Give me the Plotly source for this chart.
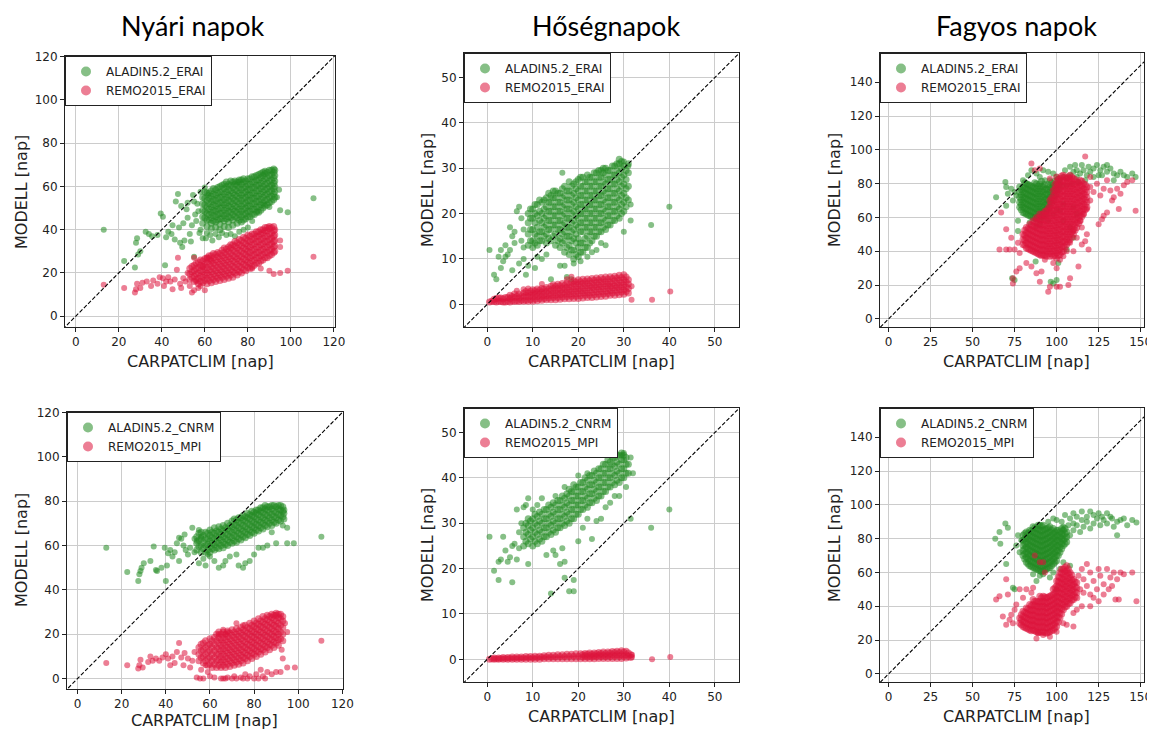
import plotly.graph_objects as go

W, H = 1155, 731

# ---------------- text / categories ----------------
titles = ["Nyári napok", "Hőségnapok", "Fagyos napok"]
names_top = ["ALADIN5.2_ERAI", "REMO2015_ERAI"]
names_bottom = ["ALADIN5.2_CNRM", "REMO2015_MPI"]
x_label = "CARPATCLIM [nap]"
y_label = "MODELL [nap]"

ticks_nyari = [0, 20, 40, 60, 80, 100, 120]
ticks_hoseg = [0, 10, 20, 30, 40, 50]
ticks_fagy_x = [0, 25, 50, 75, 100, 125, 150]
ticks_fagy_y = [0, 20, 40, 60, 80, 100, 120, 140]
diag = [-10, 200]

# ---------------- data ----------------
# Dense cores as (x, [y...]) columns, scattered points as (x, y)

# Panel 1: Nyári napok, ERAI
G1_cols = [(59,[43,46,49,52,55]),(61,[41.5,44.5,47.5,50.5,53.5,57]),(63,[40.5,43,45.5,48,50.5,53,55.5,58]),
    (65,[41,43.5,46,48.5,51,53.5,56,58.5]),(67,[40,42.5,45,47.5,50,52.5,55,57.5,60]),(69,[41.5,44,46.5,49,51.5,54,56.5,59,61]),
    (71,[41,43.5,46,48.5,51,53.5,56,58.5,61]),(73,[42,44.5,47,49.5,52,54.5,57,59.5,62]),(75,[43,45.5,48,50.5,53,55.5,58,60.5,62]),
    (77,[43.5,46,48.5,51,53.5,56,58.5,61,63]),(79,[45,47.5,50,52.5,55,57.5,60,62.5]),(81,[46,48.5,51,53.5,56,58.5,61,63.5]),
    (83,[47,49.5,52,54.5,57,59.5,62,64.5]),(85,[48,50.5,53,55.5,58,60.5,63,65.5]),(87,[50,52.5,55,57.5,60,62.5,65,66.5]),
    (89,[51.5,54,56.5,59,61.5,64,66.5]),(91,[53,55.5,58,60.5,63,65.5,67.5]),(92.5,[55,57.5,60,62.5,65,67.5])]
G1_cols2 = [(60,[45.5,48.5,51.5,54.5,57.5]),(62,[44.5,47,49.5,52,54.5,57]),(64,[44,46.5,49,51.5,54,56.5,59]),
    (66,[44.5,47,49.5,52,54.5,57,59.5]),(68,[45,47.5,50,52.5,55,57.5,60.5]),(70,[45,47.5,50,52.5,55,57.5,60,62]),
    (72,[45.5,48,50.5,53,55.5,58,60.5,62.5]),(74,[46,48.5,51,53.5,56,58.5,61,62.5]),(76,[44.5,47,49.5,52,54.5,57,59.5,62,63]),
    (78,[44.5,47,49.5,52,54.5,57,59.5,62,63.5]),(80,[46,48.5,51,53.5,56,58.5,61,63.5]),(82,[47,49.5,52,54.5,57,59.5,62,64.5]),
    (84,[48,50.5,53,55.5,58,60.5,63,65]),(86,[49,51.5,54,56.5,59,61.5,64,66]),(88,[51,53.5,56,58.5,61,63.5,66,67]),
    (90,[52.5,55,57.5,60,62.5,65,67.5]),(92,[54,56.5,59,61.5,64,66.5,68])]
G1_pts = [(13,40),(22.5,25.5),(27.5,22.5),(28,34),(28.5,36),(29,28.5),(30,30),(32.5,39),(34,38),(35.5,37),(38,37.5),
    (39.5,47.5),(40.5,46),(41.5,23.5),(42,36.5),(43,39),(44.5,38),(45,42),(46,35.5),(46.5,53),(47.5,56.5),(48,41),
    (48.5,34),(49.5,32),(50.5,35),(50,43),(51.5,49.5),(52,45.5),(53,38),(53.5,34.5),(54,42),(55,27.5),(55.5,47),(56,44),
    (56.5,52),(57,48.5),(57.5,38.5),(58,40),(59,36),(60.5,36),(61,38.5),(62.5,37.5),(63.5,35),(65,38),(66.5,36.5),
    (68,38.5),(70,37.5),(72,38),(74,37),(76,39),(78,40),(80,41),(95,49),(98.5,48),(110.5,54.5),(94.5,58.5),(93.5,55),
    (90,50.5),(87.5,51.5),(84.5,48.5),(82,44),(55,53),(58,57.5),(60,59.5),(61.5,56),(52,52.5),(49,51),(54.5,56)]
R1_cols = [(53,[17,19.5,22]),(55,[16,18.5,21,23.5]),(57,[15,17.5,20,22.5,25]),(59,[15.5,18,20.5,23,25.5]),
    (61,[15,17.5,20,22.5,25,27]),(63,[15.5,18,20.5,23,25.5,28]),(65,[16,18.5,21,23.5,26,28.5]),(67,[16.5,19,21.5,24,26.5,29]),
    (69,[17,19.5,22,24.5,27,29.5,31.5]),(71,[17.5,20,22.5,25,27.5,30,32]),(73,[18,20.5,23,25.5,28,30.5,33]),
    (75,[19,21.5,24,26.5,29,31.5,34]),(77,[20,22.5,25,27.5,30,32.5,35]),(79,[21,23.5,26,28.5,31,33.5,36]),
    (81,[22,24.5,27,29.5,32,34.5,37]),(83,[23.5,26,28.5,31,33.5,36,38]),(85,[24.5,27,29.5,32,34.5,37,39]),
    (87,[26,28.5,31,33.5,36,38.5,40]),(89,[27,29.5,32,34.5,37,39.5,41]),(91,[28.5,31,33.5,36,38.5,41]),(92.5,[30,32.5,35,37.5,40])]
R1_cols2 = [(54,[18,20.5,23]),(56,[17,19.5,22,24.5]),(58,[16,18.5,21,23.5,26]),(60,[16.5,19,21.5,24,26.5]),
    (62,[16.5,19,21.5,24,26.5,28]),(64,[17,19.5,22,24.5,27,29]),(66,[17.5,20,22.5,25,27.5,29.5]),
    (68,[18,20.5,23,25.5,28,30.5]),(70,[18.5,21,23.5,26,28.5,31]),(72,[19,21.5,24,26.5,29,31.5,33]),
    (74,[20,22.5,25,27.5,30,32.5,34.5]),(76,[20.5,23,25.5,28,30.5,33,35.5]),(78,[21.5,24,26.5,29,31.5,34,36.5]),
    (80,[22.5,25,27.5,30,32.5,35,37.5]),(82,[23,25.5,28,30.5,33,35.5,38]),(84,[24.5,27,29.5,32,34.5,37,39]),
    (86,[25.5,28,30.5,33,35.5,38,40]),(88,[27,29.5,32,34.5,37,39.5,41]),(90,[28,30.5,33,35.5,38,40.5,41.5]),
    (92,[29.5,32,34.5,37,39.5,41.5])]
R1_pts = [(13,14.5),(22.5,13),(27.5,11),(28,12.5),(28.5,15),(30,13),(31,15.5),(33,16),(35,14),(36,16.5),(38,15),(39,18),
    (40.5,17.5),(41,14),(42,16),(43,18),(44,16),(45,12.5),(46,17),(47,21.5),(47.5,27),(48.5,15),(49,13),(50,17.5),(51,16),
    (52,20),(53,14),(54,11),(55,12),(55,27),(56,16),(57,13),(58,14),(59,23),(60,12),(92,19.5),(95,20),(98.5,21),
    (110.5,27.5),(95,35),(95,32),(90,21),(86,22),(82,22),(61,27),(63,26)]

# Panel 2: Hőségnapok, ERAI
G2_cols = [(9,[13,15.5,18,20]),(10,[12.5,14,16.5,19,21]),(11,[13,15,17,19.5,22]),(12,[14,16,18,20,22.5]),
    (13,[13.5,15.5,17.5,19.5,21.5,23.5]),(14,[14,16.5,18.5,20.5,22.5,24]),(15,[13,15.5,17.5,19.5,21.5,23.5,25]),
    (16,[12.5,14.5,16.5,18.5,20.5,22.5,24.5]),(17,[11.5,14,16,18,20,22,24,26]),(18,[11,13,15,17,19,21,23,25,27]),
    (19,[10,12,14.5,16.5,18.5,20.5,22.5,24.5,26.5]),(20,[10.5,12.5,14.5,17,19,21,23,25,27.5]),
    (21,[11.5,13.5,16,18,20,22,24,26,28]),(22,[12.5,15,17,19,21,23,25,27,28.5]),(23,[14,16,18,20,22,24,26,28]),
    (24,[15,17,19,21,23,25,27,29]),(25,[16,18,20,22,24,26,28,29.5]),(26,[16.5,18.5,20.5,22.5,24.5,26.5,28.5,30]),
    (27,[17.5,19.5,21.5,23.5,25.5,27.5,29.5]),(28,[18.5,20.5,22.5,24.5,26.5,28.5,30.5]),(29,[19,21,23,25,27,29,31,32]),
    (30,[20.5,22.5,24.5,26.5,28.5,30.5]),(31,[23,26,29,31])]
G2_cols2 = [(9.5,[14,16.5,19,21]),(10.5,[13.5,15.5,18,20,22]),(11.5,[14,16,18.5,20.5,23]),(12.5,[15,17,19,21,23]),
    (13.5,[14.5,16.5,18.5,20.5,22.5,24.5]),(14.5,[15,17.5,19.5,21.5,23.5,25]),(15.5,[14,16.5,18.5,20.5,22.5,24.5]),
    (16.5,[13.5,15.5,17.5,19.5,21.5,23.5,25.5]),(17.5,[12.5,15,17,19,21,23,25]),(18.5,[12,14,16,18,20,22,24,26]),
    (19.5,[11,13.5,15.5,17.5,19.5,21.5,23.5,25.5,27]),(20.5,[11.5,13.5,16,18,20,22,24,26,28]),
    (21.5,[12.5,14.5,17,19,21,23,25,27]),(22.5,[13.5,16,18,20,22,24,26,28]),(23.5,[15,17,19,21,23,25,27,29]),
    (24.5,[16,18,20,22,24,26,28,29.5]),(25.5,[17,19,21,23,25,27,29,30]),(26.5,[17.5,19.5,21.5,23.5,25.5,27.5,29.5]),
    (27.5,[18.5,20.5,22.5,24.5,26.5,28.5,30.5]),(28.5,[19.5,21.5,23.5,25.5,27.5,29.5,31]),
    (29.5,[20,22,24,26,28,30,31.5]),(30.5,[21.5,23.5,25.5,27.5,29.5])]
G2_pts = [(0.5,12),(1.5,6.5),(2,5.5),(2.5,10.5),(3,8),(3,12),(3.5,9.5),(4,10.5),(4.5,11),(5,12),(5.5,7.5),(5,17),(6,16),
    (6.5,20.5),(7,21.5),(6,13.5),(7,9),(7.5,14),(8,10),(8,12.5),(8,16.5),(8.5,6.5),(7.5,19),(5.5,15),(4,13),(9,8.5),
    (16.5,29),(16,8.5),(17,8.5),(17.5,6),(18.5,5.5),(19,9),(20.5,9.5),(22,10.5),(23,11.5),(24,12),(25,13.5),(26,13),
    (30,16),(31.5,18.5),(31.5,22),(36,17.5),(40,21.5),(31,30.5),(30,31.5),(14,5.5),(12,10),(13,11),(10.5,8),(11,10.5)]
R2_cols = [(0.5,[0.5]),(1,[0.7]),(2,[0.5,1.3]),(3,[0.6,1.4]),(4,[0.5,1.5]),(5,[0.5,1.3,2]),(6,[0.6,1.5,2.3]),
    (7,[0.6,1.4,2.3]),(8,[0.7,1.6,2.5]),(9,[0.7,1.6,2.5]),(10,[0.7,1.6,2.5,3.2]),(11,[0.8,1.7,2.6,3.4]),
    (12,[0.9,1.8,2.7,3.5]),(13,[1,1.9,2.8,3.7]),(14,[1,2,3,4]),(15,[1,2,3,4]),(16,[1.1,2.1,3.1,4.1]),
    (17,[1.2,2.2,3.2,4.2]),(18,[1.2,2.2,3.2,4.3]),(19,[1.3,2.3,3.3,4.4,5.2]),(20,[1.3,2.4,3.4,4.5,5.4]),
    (21,[1.4,2.5,3.5,4.6,5.5]),(22,[1.5,2.5,3.6,4.6,5.6]),(23,[1.5,2.6,3.7,4.7,5.7]),(24,[1.6,2.7,3.8,4.8,5.8]),
    (25,[1.7,2.8,3.9,4.9,5.9]),(26,[1.8,2.9,4,5,6]),(27,[2,3,4,5,6.1]),(28,[2,3.1,4.1,5.2,6.2]),
    (29,[2.1,3.2,4.2,5.3,6.4]),(30,[2.2,3.2,4.3,5.4,6.5]),(31,[2.5,3.5,4.5,5.4])]
R2_cols2 = [(1.5,[0.6,1.1]),(2.5,[0.7,1.4]),(3.5,[0.5,1.2]),(4.5,[0.7,1.5]),(5.5,[0.8,1.7]),(6.5,[0.8,1.8]),
    (7.5,[0.9,1.9]),(8.5,[0.9,2,2.8]),(9.5,[1,2,2.9]),(10.5,[1.1,2.1,3]),(11.5,[1.2,2.2,3.1]),(12.5,[1.3,2.3,3.3]),
    (13.5,[1.4,2.4,3.4]),(14.5,[1.5,2.5,3.5,4.3]),(15.5,[1.5,2.5,3.5,4.4]),(16.5,[1.6,2.6,3.6,4.6]),
    (17.5,[1.7,2.7,3.7,4.7]),(18.5,[1.8,2.8,3.8,4.8]),(19.5,[1.8,2.9,3.9,4.9]),(20.5,[1.9,3,4,5]),
    (21.5,[2,3,4.1,5.1]),(22.5,[2,3.1,4.1,5.2]),(23.5,[2.1,3.2,4.2,5.3]),(24.5,[2.2,3.3,4.3,5.4]),
    (25.5,[2.3,3.4,4.5,5.5]),(26.5,[2.4,3.5,4.5,5.6]),(27.5,[2.5,3.6,4.6,5.7]),(28.5,[2.6,3.7,4.7,5.8]),
    (29.5,[2.7,3.8,4.8,5.9]),(30.5,[2.8,3.8,4.9,6])]
R2_pts = [(6.5,3),(8,3.3),(12,4.5),(31.7,1),(36.2,1),(40.2,2.8),(31.7,4),(9,3.5),(17.5,5.5),(18.5,6.1)]

# Panel 3: Fagyos napok, ERAI
G3_cols = [(78,[66,69,72,75,78]),(80,[63,66,69,72,75,78]),(82,[62,65,68,71,74,77,80]),(84,[61,64,67,70,73,76,79]),
    (86,[60,63,66,69,72,75,78]),(88,[59,62,65,68,71,74,77,80]),(90,[59,62,65,68,71,74,77,80]),(92,[60,63,66,69,72,75,78]),
    (94,[62,65,68,71,74,77]),(96,[66,69,72,75,78]),(98,[70,73,76,79]),(100,[74,77,80])]
G3_cols2 = [(79,[64.5,67.5,70.5,73.5,76.5]),(81,[62.5,65.5,68.5,71.5,74.5,77.5,80.5]),(83,[61.5,64.5,67.5,70.5,73.5,76.5,79.5]),
    (85,[60.5,63.5,66.5,69.5,72.5,75.5,78.5]),(87,[59.5,62.5,65.5,68.5,71.5,74.5,77.5,80.5]),
    (89,[60.5,63.5,66.5,69.5,72.5,75.5,78.5]),(91,[60.5,63.5,66.5,69.5,72.5,75.5,78.5,81.5]),
    (93,[61.5,64.5,67.5,70.5,73.5,76.5,79.5]),(95,[64.5,67.5,70.5,73.5,76.5,79.5]),(97,[68.5,71.5,74.5,77.5,80.5]),
    (99,[72.5,75.5,78.5,81.5]),(101,[76.5,79.5,82.5])]
G3_pts = [(102,82),(104,84),(106,83),(103,79),(108,85),(110,87),(112,84),(114,86),(116,88),(118,85),(120,87),(105,88),
    (108,90),(111,91),(115,91),(119,90),(122,89),(124,91),(126,88),(128,90),(130,87),(132,89),(134,86),(136,85),(138,87),
    (140,85),(142,84),(145,86),(147,84),(125,85),(122,84),(117,82),(113,81),(109,80),(106,79),(100,84),(98,86),(95,87),
    (92,88),(96,82),(93,82),(90,84),(88,86),(112,88),(127,85),(130,91),(134,82),
    (64,72),(69.5,81),(70,78),(70,67),(71,74),(73,77),(75,75),(76,73),(74,70),(77,58),(77,52),(73.5,24),(75,23),
    (87.5,34),(96.5,22),(98,21),(100,23),(101,33),(110,48),(106,41),(108,54),(104,58),(102,64),(104,68),(110,66),
    (112,62),(85,88),(83,85),(80,82),(88,55),(90,56),(84,57),(95,58),(98,62),(100,65)]
R3_cols = [(80,[44,47,50]),(82,[42,45,48,51,54]),(84,[41,44,47,50,53,56]),(86,[40,43,46,49,52,55,58]),
    (88,[39,42,45,48,51,54,57,60]),(90,[38,41,44,47,50,53,56,59,62]),(92,[38,41,44,47,50,53,56,59,62]),
    (94,[37,40,43,46,49,52,55,58,61,64]),(96,[37,40,43,46,49,52,55,58,61,64,67,70]),
    (98,[37,40,43,46,49,52,55,58,61,64,67,70,73,76]),(100,[36,39,42,45,48,51,54,57,60,63,66,69,72,75,78,81,84]),
    (102,[38,41,44,47,50,53,56,59,62,65,68,71,74,77,80,83]),(104,[40,43,46,49,52,55,58,61,64,67,70,73,76,79,82,85]),
    (106,[44,47,50,53,56,59,62,65,68,71,74,77,80,83]),(108,[47,50,53,56,59,62,65,68,71,74,77,80,83,85]),
    (110,[50,53,56,59,62,65,68,71,74,77,80,83]),(112,[54,57,60,63,66,69,72,75,78,81]),
    (114,[58,61,64,67,70,73,76,79,82]),(116,[62,65,68,71,74,77,80]),(118,[66,69,72,75,78])]
R3_cols2 = [(81,[43.5,46.5,49.5,52.5]),(83,[41.5,44.5,47.5,50.5,53.5]),(85,[40.5,43.5,46.5,49.5,52.5,55.5]),
    (87,[39.5,42.5,45.5,48.5,51.5,54.5,57.5]),(89,[38.5,41.5,44.5,47.5,50.5,53.5,56.5,59.5]),
    (91,[37.5,40.5,43.5,46.5,49.5,52.5,55.5,58.5,61.5]),(93,[37.5,40.5,43.5,46.5,49.5,52.5,55.5,58.5,61.5,63.5]),
    (95,[38.5,41.5,44.5,47.5,50.5,53.5,56.5,59.5,62.5,65.5]),
    (97,[38.5,41.5,44.5,47.5,50.5,53.5,56.5,59.5,62.5,65.5,68.5,71.5]),
    (99,[37.5,40.5,43.5,46.5,49.5,52.5,55.5,58.5,61.5,64.5,67.5,70.5,73.5,76.5,79.5]),
    (101,[37.5,40.5,43.5,46.5,49.5,52.5,55.5,58.5,61.5,64.5,67.5,70.5,73.5,76.5,79.5,82.5]),
    (103,[39.5,42.5,45.5,48.5,51.5,54.5,57.5,60.5,63.5,66.5,69.5,72.5,75.5,78.5,81.5,84.5]),
    (105,[42.5,45.5,48.5,51.5,54.5,57.5,60.5,63.5,66.5,69.5,72.5,75.5,78.5,81.5,84]),
    (107,[45.5,48.5,51.5,54.5,57.5,60.5,63.5,66.5,69.5,72.5,75.5,78.5,81.5,84]),
    (109,[48.5,51.5,54.5,57.5,60.5,63.5,66.5,69.5,72.5,75.5,78.5,81.5,84]),
    (111,[52.5,55.5,58.5,61.5,64.5,67.5,70.5,73.5,76.5,79.5,82.5]),
    (113,[56.5,59.5,62.5,65.5,68.5,71.5,74.5,77.5,80.5]),(115,[60.5,63.5,66.5,69.5,72.5,75.5,78.5,81.5]),
    (117,[64.5,67.5,70.5,73.5,76.5,79.5])]
R3_pts = [(120,78),(122,75),(124,80),(126,73),(128,77),(130,82),(132,76),(134,72),(136,77),(138,74),(140,79),(142,81),
    (145,82),(147,64),(137,65),(127,59),(125,56),(128,61),(130,63),(133,70),(120,70),(118,65),(116,62),(114,58),(115,54),
    (118,50),(117,46),(115,44),(119,41),(112,48),(110,52),(108,45),(106,40),(104,37),(110,40),(113,31),(108,24),(107,20),
    (102,19),(100,19),(96,19),(95,16),(90,22),(88,27),(91,28),(85,31),(82,33),(78,30),(76,28),(74,24),(74,21),(67,63),
    (70,53),(73,48),(72,41),(70,41),(66,41),(75,41),(77,45),(78,39),(85,92),(87,88),(90,89),(117,96),(120,84),(96,83),
    (93,35),(98,33),(102,35),(100,30)]

# Panel 4: Nyári napok, CNRM / MPI
G4_cols = [(54,[58,61,64]),(56,[57,60,63,66]),(58,[57,60,63,66]),(60,[57,59.5,62,64.5,67]),(62,[58,60.5,63,65.5,68]),
    (64,[58.5,61,63.5,66,68.5]),(66,[59,61.5,64,66.5,69]),(68,[60,62.5,65,67.5,70]),(70,[61,63.5,66,68.5,71]),
    (72,[61.5,64,66.5,69,71.5]),(74,[62.5,65,67.5,70,72.5]),(76,[63.5,66,68.5,71,73]),(78,[64.5,67,69.5,72,74]),
    (80,[65.5,68,70.5,73,75]),(82,[66.5,69,71.5,74,76]),(84,[67.5,70,72.5,75,77]),(86,[68.5,71,73.5,76,77.5]),
    (88,[69,71.5,74,76.5,78]),(90,[70,72.5,75,77.5]),(92,[71,73.5,76,78]),(93.5,[72,74.5,76])]
G4_cols2 = [(55,[59.5,62.5,65.5]),(57,[58.5,61.5,64.5]),(59,[58,60.5,63,65.5]),(61,[58.5,61,63.5,66]),
    (63,[59,61.5,64,66.5]),(65,[60,62.5,65,67.5]),(67,[60.5,63,65.5,68]),(69,[61.5,64,66.5,69]),(71,[62,64.5,67,69.5,72]),
    (73,[63,65.5,68,70.5,72.5]),(75,[64,66.5,69,71.5,73.5]),(77,[65,67.5,70,72.5,74.5]),(79,[66,68.5,71,73.5,75.5]),
    (81,[67,69.5,72,74.5,76]),(83,[68,70.5,73,75.5,77]),(85,[69,71.5,74,76.5,78]),(87,[70,72.5,75,77.5]),
    (89,[70.5,73,75.5,78]),(91,[71.5,74,76.5,78]),(93,[73,75.5,77.5])]
G4_pts = [(13,59),(22.5,48),(27.5,44),(28,47),(28.5,48.5),(29,50),(30,52),(33,53),(34.5,59.5),(35.5,49),(36,48.5),
    (38,50),(39.5,59),(40,44),(40.5,51),(41,56.5),(42,58),(43,55),(44,57),(45,61),(46,53),(47,63),(48,60),(49,58),
    (50,56),(51,59),(52,68),(53,57),(54,62),(55,52),(56,64),(57,54),(58,51),(59,56),(60,55),(62,53),(64,50),(66,51),
    (67,53),(69,55),(72,56),(73,51),(75,50),(76,52),(78,53),(80,56),(82,59),(84,59),(86,60),(90,61),(95,61),(98,61),
    (110.5,64),(95,68),(93,69),(88,66),(53,63),(48.5,65),(46,63.5),(55,67)]
R4_cols = [(55,[8,11,14]),(57,[7,10,13,16]),(59,[6,9,12,15]),(61,[5,8,11,14,17]),(63,[5,8,11,14,17,20]),
    (65,[5,7.5,10,12.5,15,17.5,20]),(67,[5,7.5,10,12.5,15,17.5,20]),(69,[5.5,8,10.5,13,15.5,18,20.5]),
    (71,[6,8.5,11,13.5,16,18.5,21]),(73,[6.5,9,11.5,14,16.5,19,21.5]),(75,[7,9.5,12,14.5,17,19.5,22]),
    (77,[8,10.5,13,15.5,18,20.5,23]),(79,[9,11.5,14,16.5,19,21.5,24]),(81,[10,12.5,15,17.5,20,22.5,25]),
    (83,[11,13.5,16,18.5,21,23.5,26]),(85,[12,14.5,17,19.5,22,24.5,27]),(87,[13,15.5,18,20.5,23,25.5,28]),
    (89,[14,16.5,19,21.5,24,26.5,28.5]),(91,[15,17.5,20,22.5,25,27.5,29]),(93,[17,20,23,26,28])]
R4_cols2 = [(56,[9.5,12.5,15.5]),(58,[8,11,14,17]),(60,[6.5,9.5,12.5,15.5,18]),(62,[6.5,9.5,12.5,15.5,18.5]),
    (64,[6,8.5,11,13.5,16,18.5,21]),(66,[6,8.5,11,13.5,16,18.5,21]),(68,[6.5,9,11.5,14,16.5,19,21.5]),
    (70,[7,9.5,12,14.5,17,19.5,22]),(72,[7.5,10,12.5,15,17.5,20,22.5]),(74,[8,10.5,13,15.5,18,20.5,23]),
    (76,[9,11.5,14,16.5,19,21.5,24]),(78,[10,12.5,15,17.5,20,22.5,25]),(80,[11,13.5,16,18.5,21,23.5,26]),
    (82,[12,14.5,17,19.5,22,24.5,27]),(84,[13,15.5,18,20.5,23,25.5,28]),(86,[14,16.5,19,21.5,24,26.5,28.5]),
    (88,[15,17.5,20,22.5,25,27.5,29]),(90,[16,18.5,21,23.5,26,28.5,29.5]),(92,[18,21,24,27,29])]
R4_pts = [(13,7),(22.5,6),(27.5,4.5),(28,6),(28.5,8.5),(29.5,5),(32,7.5),(33,10),(34,8),(35.5,9),(37,8),(38.5,9.5),
    (40,11),(41,9),(42,6),(43,10),(44,7),(45,12),(46,16),(47,9.5),(48,6),(48.5,11.5),(50,9),(51,5),(52,8),(53,12),
    (54,0.5),(55.5,0),(56,4),(57,0),(58,6),(59,3),(60,1),(62,0.5),(65,0),(66,0),(67,0),(68,0.5),(70,0),(71,1),(72,0),
    (74,0.5),(75,0),(76,2),(77,0),(78,1),(80,0),(81,2),(82,0),(83,4),(84,1),(85,0),(86,3),(88,2),(90,3),(92,3),(95,5),
    (98.5,5),(110.5,17),(95,21),(94,25),(92.5,13),(93,9),(72,25),(67,20),(68,21),(64,20),(66,22),(75,24)]

# Panel 5: Hőségnapok, CNRM / MPI
G5_cols = [(8,[25,27,29]),(9,[25.5,27.5,29.5,31]),(10,[25,27,29,31]),(11,[25.5,27.5,29.5,31.5]),(12,[26,28,30,32]),
    (13,[27,29,31,33]),(14,[27.5,29.5,31.5,33.5]),(15,[28,30,32,34]),(16,[29,31,33,35]),(17,[29.5,31.5,33.5,35.5]),
    (18,[30,32,34,36,37.5]),(19,[31,33,35,37,38.5]),(20,[32,34,36,38]),(21,[33,35,37,39]),(22,[33.5,35.5,37.5,39.5]),
    (23,[34.5,36.5,38.5,40.5]),(24,[35,37,39,41]),(25,[36,38,40,42]),(26,[37,39,41,43]),(27,[38,40,42,43.5]),
    (28,[38.5,40.5,42.5,44.5]),(29,[39,41,43,45]),(30,[40,42,44,45]),(31,[41,43])]
G5_cols2 = [(8.5,[26,28,30]),(9.5,[26.5,28.5,30.5]),(10.5,[26,28,30,32]),(11.5,[26.5,28.5,30.5,32.5]),
    (12.5,[27,29,31,33]),(13.5,[28,30,32,34]),(14.5,[28.5,30.5,32.5,34.5]),(15.5,[29,31,33,35]),(16.5,[30,32,34,36]),
    (17.5,[30.5,32.5,34.5,36.5]),(18.5,[31,33,35,37]),(19.5,[32,34,36,38]),(20.5,[33,35,37,39]),(21.5,[34,36,38,40]),
    (22.5,[34.5,36.5,38.5,40.5]),(23.5,[35.5,37.5,39.5,41.5]),(24.5,[36,38,40,42]),(25.5,[37,39,41,43]),
    (26.5,[38,40,42,44]),(27.5,[39,41,43,44.5]),(28.5,[39.5,41.5,43.5,45]),(29.5,[40,42,44,45.5]),(30.5,[41,43,44.5])]
G5_pts = [(0.5,27),(1.5,19.5),(2.5,17.5),(2.5,21.5),(3,22),(3.5,27),(4,24),(4.5,21.5),(5,22.5),(5.5,17),(5.5,25),(6,25.5),
    (6.5,33),(6.5,22),(7,24.5),(7,28),(7.5,30),(8,33.5),(8.5,34),(9,21),(9,35.5),(10,33),(11,34),(12,35.5),(13,23),
    (14,14.5),(14.5,24),(15,23),(16,21),(16.5,24.5),(17,21.5),(17,18),(18,15),(19,15),(19,17.5),(20,26),(21,29),(22,31),
    (23,26.5),(24,30.5),(25,31),(26,33.5),(27,34.5),(28,36),(29,36),(30.5,38),(31.5,31),(32,41),(36,29),(40,33),
    (31.5,44.5),(30,45.5),(29.5,45),(20,40.5),(22,41),(15,36),(17,38)]
R5_cols = [(0.5,[0]),(1.5,[0,0.3]),(2.5,[0,0.3]),(3.5,[0,0.4]),(4.5,[0,0.4]),(5.5,[0,0.5]),(6.5,[0,0.5]),(7.5,[0,0.5]),
    (8.5,[0,0.6]),(9.5,[0,0.6]),(10.5,[0,0.7]),(11.5,[0,0.7]),(12.5,[0.1,0.8]),(13.5,[0.1,0.9]),(14.5,[0.1,0.9]),
    (15.5,[0.1,1.0]),(16.5,[0.1,1.0]),(17.5,[0.1,1.1]),(18.5,[0.1,1.1]),(19.5,[0.1,1.2]),(20.5,[0.1,1.2]),
    (21.5,[0.1,0.8,1.3]),(22.5,[0.1,0.8,1.4]),(23.5,[0.1,0.8,1.4]),(24.5,[0.2,0.9,1.5]),(25.5,[0.2,0.9,1.6]),
    (26.5,[0.2,0.9,1.6]),(27.5,[0.2,1.0,1.7]),(28.5,[0.2,1.0,1.8]),(29.5,[0.2,1.0,1.9]),(30.5,[0.3,1.0,1.8]),(31.5,[0.4,1.0])]
R5_cols2 = [(1,[0.15]),(2,[0.15]),(3,[0.2]),(4,[0.2]),(5,[0.25]),(6,[0.25]),(7,[0.3]),(8,[0.3]),(9,[0.35]),(10,[0.35]),
    (11,[0.4]),(12,[0.45]),(13,[0.5]),(14,[0.5]),(15,[0.55]),(16,[0.6]),(17,[0.6]),(18,[0.65]),(19,[0.7]),(20,[0.7]),
    (21,[0.5,1.0]),(22,[0.5,1.1]),(23,[0.5,1.1]),(24,[0.6,1.2]),(25,[0.6,1.3]),(26,[0.6,1.3]),(27,[0.6,1.4]),
    (28,[0.7,1.5]),(29,[0.7,1.5]),(30,[0.7,1.6]),(31,[0.7,1.4])]
R5_pts = [(36.2,0),(40.2,0.5),(31.8,0.5),(31.8,1)]

# Panel 6: Fagyos napok, CNRM / MPI
G6_cols = [(80,[70,73,76,79,82]),(82,[66,69,72,75,78,81,84]),(84,[64,67,70,73,76,79,82,85]),
    (86,[63,66,69,72,75,78,81,84,87]),(88,[62,65,68,71,74,77,80,83,86]),(90,[61,64,67,70,73,76,79,82,85,88]),
    (92,[61,64,67,70,73,76,79,82,85,88]),(94,[62,65,68,71,74,77,80,83,86]),(96,[63,66,69,72,75,78,81,84,87]),
    (98,[65,68,71,74,77,80,83,86]),(100,[67,70,73,76,79,82,85]),(102,[72,75,78,81,84]),(104,[76,79,82,85]),(106,[78,81,84])]
G6_cols2 = [(81,[68,71,74,77,80,83]),(83,[65,68,71,74,77,80,83]),(85,[63.5,66.5,69.5,72.5,75.5,78.5,81.5,84.5]),
    (87,[62.5,65.5,68.5,71.5,74.5,77.5,80.5,83.5,86.5]),(89,[61.5,64.5,67.5,70.5,73.5,76.5,79.5,82.5,85.5,88]),
    (91,[60.5,63.5,66.5,69.5,72.5,75.5,78.5,81.5,84.5,87.5]),(93,[61.5,64.5,67.5,70.5,73.5,76.5,79.5,82.5,85.5]),
    (95,[62.5,65.5,68.5,71.5,74.5,77.5,80.5,83.5,86.5]),(97,[64,67,70,73,76,79,82,85]),(99,[66,69,72,75,78,81,84]),
    (101,[70,73,76,79,82,85]),(103,[74,77,80,83,86]),(105,[77,80,83,86])]
G6_pts = [(108,82),(110,85),(112,88),(114,84),(116,87),(118,90),(120,86),(122,89),(124,92),(126,88),(128,91),(130,89),
    (132,93),(134,87),(136,90),(138,91),(140,92),(142,88),(145,91),(147.5,89.5),(136,82),(130,95),(125,95),(120,96),
    (115,96),(110,95),(105,94),(108,92),(112,93),(118,93),(122,94),(127,93),(133,92),(103,90),(100,91),(98,92),(95,90),
    (110,89),(115,91),(104,87),(107,88),
    (63.5,80),(66,84),(69.5,89),(71,86.5),(70,65),(66.5,77),(74,51),(75,50),(77,82),(79,79),(76,76),(78,72),(88,55),
    (90,58),(86,59),(92,59),(100,50),(104,66),(108,64),(102,62),(96,57),(98,60)]
R6_cols = [(78,[30,33]),(80,[28,31,34,37]),(82,[27,30,33,36,39]),(84,[26,29,32,35,38,41]),(86,[26,29,32,35,38,41,44]),
    (88,[25,28,31,34,37,40,43]),(90,[25,28,31,34,37,40,43,46]),(92,[25,28,31,34,37,40,43,46]),
    (94,[24,27,30,33,36,39,42,45]),(96,[25,28,31,34,37,40,43,46]),(98,[26,29,32,35,38,41,44,47,50]),
    (100,[28,31,34,37,40,43,46,49,52,55]),(102,[33,36,39,42,45,48,51,54,57,60]),(104,[38,41,44,47,50,53,56,59,62]),
    (106,[40,43,46,49,52,55,58,61,64]),(108,[42,45,48,51,54,57,60]),(110,[44,47,50,53,56]),(112,[45,48,51,54])]
R6_cols2 = [(79,[29,32,35]),(81,[27.5,30.5,33.5,36.5]),(83,[26.5,29.5,32.5,35.5,38.5]),(85,[25.5,28.5,31.5,34.5,37.5,40.5]),
    (87,[25.5,28.5,31.5,34.5,37.5,40.5,43]),(89,[24.5,27.5,30.5,33.5,36.5,39.5,42.5]),
    (91,[24.5,27.5,30.5,33.5,36.5,39.5,42.5,45]),(93,[24.5,27.5,30.5,33.5,36.5,39.5,42.5,45.5]),
    (95,[24.5,27.5,30.5,33.5,36.5,39.5,42.5,45.5]),(97,[25.5,28.5,31.5,34.5,37.5,40.5,43.5,46.5]),
    (99,[27,30,33,36,39,42,45,48,51]),(101,[30.5,33.5,36.5,39.5,42.5,45.5,48.5,51.5,54.5,57.5]),
    (103,[35.5,38.5,41.5,44.5,47.5,50.5,53.5,56.5,59.5,62]),(105,[39.5,42.5,45.5,48.5,51.5,54.5,57.5,60.5,63]),
    (107,[41.5,44.5,47.5,50.5,53.5,56.5,59.5,62]),(109,[43.5,46.5,49.5,52.5,55.5,58.5]),(111,[45.5,48.5,51.5,54.5])]
R6_pts = [(114,50),(116,48),(118,52),(120,47),(122,55),(124,50),(126,58),(128,53),(130,62),(132,57),(134,60),(136,56),
    (138,60),(140,59),(145,60),(125,62),(120,60),(115,62),(118,65),(113,58),(116,56),(122,45),(125,43),(120,40),(115,40),
    (112,38),(110,36),(135,44),(137,44),(147.5,43),(128,47),(131,50),(133,52),(110,28),(106,29),(104,30),(100,25),
    (96,22),(92,23),(89,24),(88,21),
    (64,44),(66,46),(68,34),(70,56),(71,47),(73,35),(74,30),(76,41),(78,50),(80,45),(82,50),(85,48),(87,70),(90,66),
    (92,66),(93,60),(70,29),(72,32),(75,38),(86,51)]


def expand_cols(col_sets):
    xs, ys = [], []
    for cols in col_sets:
        for x, col in cols:
            for y in col:
                xs.append(x)
                ys.append(y)
    return xs, ys


def expand_pts(pts):
    return [p[0] for p in pts], [p[1] for p in pts]


# ---------------- layout (pixel boxes of the six axes, in target-picture pixels) ----------------
OFF = 8  # the page body margin shifts the figure by this many pixels; compensate
def fx(px):
    return (px - OFF) / W
def fy(py):
    return 1 - (py - OFF) / H

panels = [
    dict(box=(65, 335, 56, 327), xr=[-5, 120.5], yr=[-5, 120.3], xt=ticks_nyari, yt=ticks_nyari,
         g=([G1_cols, G1_cols2], G1_pts), r=([R1_cols, R1_cols2], R1_pts), names=names_top, xl=(200, 361), yl=(21, 192)),
    dict(box=(464, 739, 53, 327), xr=[-5.1, 55.3], yr=[-5, 55.4], xt=ticks_hoseg, yt=ticks_hoseg,
         g=([G2_cols, G2_cols2], G2_pts), r=([R2_cols, R2_cols2], R2_pts), names=names_top, xl=(601, 361), yl=(427, 190)),
    dict(box=(880, 1144, 53, 327), xr=[-5.1, 152], yr=[-4.8, 157.3], xt=ticks_fagy_x, yt=ticks_fagy_y,
         g=([G3_cols, G3_cols2], G3_pts), r=([R3_cols, R3_cols2], R3_pts), names=names_top, xl=(1016, 361), yl=(834, 190)),
    dict(box=(67, 343, 412, 689), xr=[-4.8, 120.3], yr=[-4.7, 120.2], xt=ticks_nyari, yt=ticks_nyari,
         g=([G4_cols, G4_cols2], G4_pts), r=([R4_cols, R4_cols2], R4_pts), names=names_bottom, xl=(204, 720), yl=(21, 550)),
    dict(box=(464, 739, 408, 682), xr=[-5.1, 55.3], yr=[-5, 55.4], xt=ticks_hoseg, yt=ticks_hoseg,
         g=([G5_cols, G5_cols2], G5_pts), r=([R5_cols, R5_cols2], R5_pts), names=names_bottom, xl=(601, 716), yl=(427, 545)),
    dict(box=(880, 1144, 408, 682), xr=[-5.1, 152], yr=[-4.8, 157.3], xt=ticks_fagy_x, yt=ticks_fagy_y,
         g=([G6_cols, G6_cols2], G6_pts), r=([R6_cols, R6_cols2], R6_pts), names=names_bottom, xl=(1016, 716), yl=(834, 545)),
]

GREEN = "rgb(34,139,34)"
RED = "rgb(220,20,60)"
FONT = "DejaVu Sans"
INK = "#222222"

fig = go.Figure()
layout = dict(width=W, height=H, autosize=False, margin=dict(l=0, r=0, t=0, b=0, pad=0),
              paper_bgcolor="white", plot_bgcolor="white", annotations=[], showlegend=True)

for i, p in enumerate(panels, start=1):
    sx = "" if i == 1 else str(i)
    xa, ya = "x" + sx, "y" + sx
    lg = "legend" + sx
    x0, x1, y0, y1 = p["box"]
    axis_common = dict(showgrid=True, gridcolor="#cccccc", gridwidth=1.2, zeroline=False, automargin=False,
                       showline=True, linecolor=INK, linewidth=1, mirror=True,
                       ticks="outside", ticklen=4, tickcolor=INK, tickwidth=1,
                       tickfont=dict(family=FONT, size=12, color=INK), fixedrange=True, tickmode="array")
    layout["xaxis" + sx] = dict(axis_common, domain=[fx(x0), fx(x1)], range=p["xr"], tickvals=p["xt"], anchor=ya)
    layout["yaxis" + sx] = dict(axis_common, domain=[fy(y1), fy(y0)], range=p["yr"], tickvals=p["yt"], anchor=xa)
    layout[lg] = dict(x=fx(x0), y=fy(y0), xanchor="left", yanchor="top", bgcolor="white",
                      bordercolor=INK, borderwidth=1, font=dict(family=FONT, size=12, color=INK),
                      tracegroupgap=0, itemclick=False, itemdoubleclick=False)

    for (col_sets, pts), col in ((p["g"], GREEN), (p["r"], RED)):
        cx, cy = expand_cols(col_sets)
        px_, py_ = expand_pts(pts)
        fig.add_trace(go.Scatter(x=cx, y=cy, mode="markers", xaxis=xa, yaxis=ya, showlegend=False,
                                 marker=dict(size=7, color=col, opacity=0.55, line=dict(width=0)),
                                 hoverinfo="skip"))
        fig.add_trace(go.Scatter(x=px_, y=py_, mode="markers", xaxis=xa, yaxis=ya, showlegend=False,
                                 marker=dict(size=6, color=col, opacity=0.55, line=dict(width=0)),
                                 hoverinfo="skip"))
    fig.add_trace(go.Scatter(x=diag, y=diag, mode="lines", xaxis=xa, yaxis=ya, showlegend=False,
                             line=dict(color="black", width=1.1, dash="4px,2px"), hoverinfo="skip"))
    for name, col in zip(p["names"], (GREEN, RED)):
        fig.add_trace(go.Scatter(x=[None], y=[None], mode="markers", xaxis=xa, yaxis=ya, name=name,
                                 legend=lg, marker=dict(size=10, color=col, opacity=0.55, line=dict(width=0))))

    xlx, xly = p["xl"]
    ylx, yly = p["yl"]
    layout["annotations"].append(dict(text=x_label, x=fx(xlx), y=fy(xly), xref="paper", yref="paper",
                                      xanchor="center", yanchor="middle", showarrow=False,
                                      font=dict(family=FONT, size=16, color=INK)))
    layout["annotations"].append(dict(text=y_label, x=fx(ylx), y=fy(yly), xref="paper", yref="paper",
                                      xanchor="center", yanchor="middle", showarrow=False, textangle=-90,
                                      font=dict(family=FONT, size=16, color=INK)))

title_x = [193, 606, 1016]
for t, tx in zip(titles, title_x):
    layout["annotations"].append(dict(text=t, x=fx(tx), y=fy(26), xref="paper", yref="paper",
                                      xanchor="center", yanchor="middle", showarrow=False,
                                      font=dict(family="Lato", size=27, color="black")))

fig.update_layout(**layout)
fig.write_html("out.html")
